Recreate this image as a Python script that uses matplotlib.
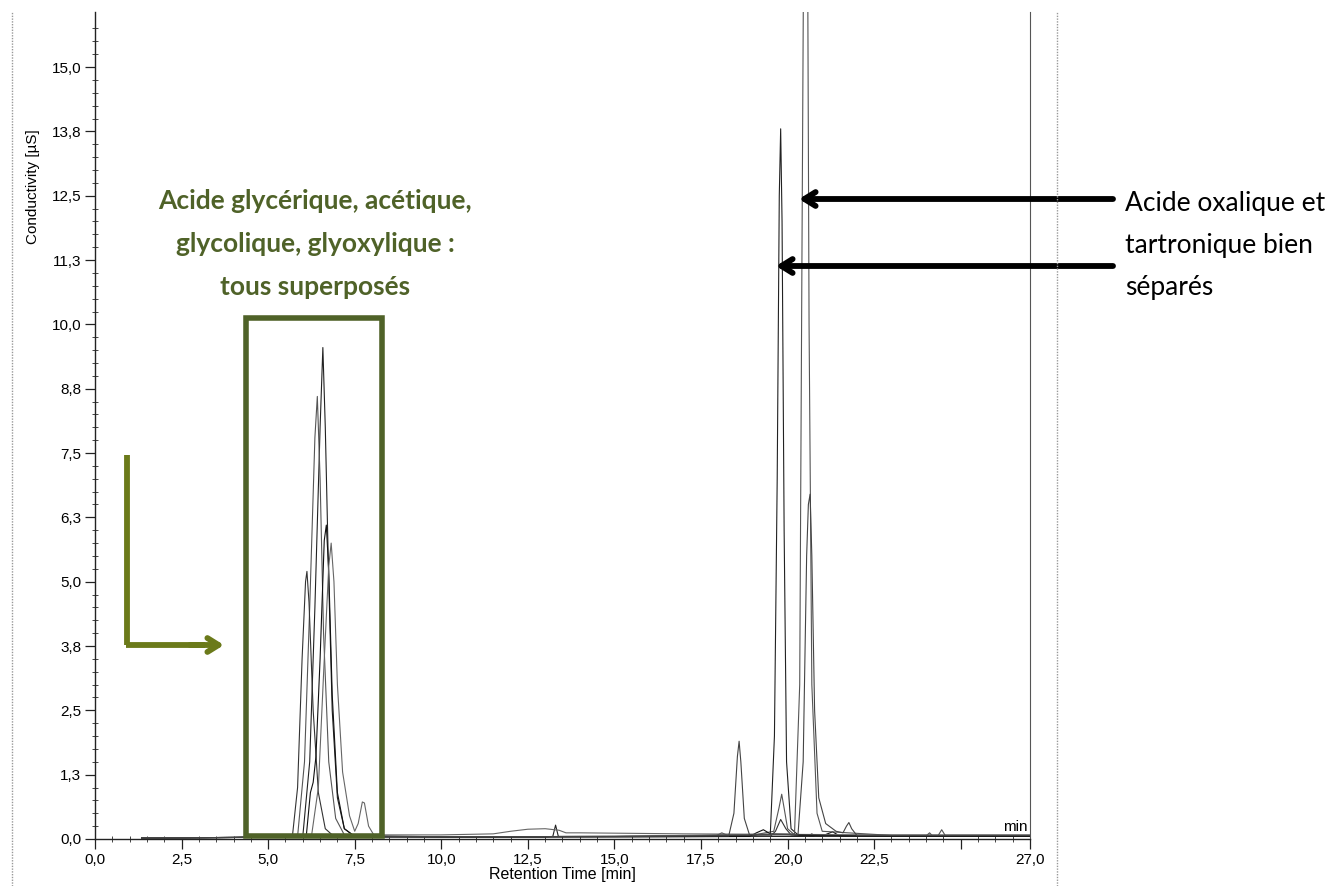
import matplotlib
matplotlib.use("Agg")
import matplotlib.pyplot as plt
from matplotlib.lines import Line2D
from matplotlib.patches import Rectangle
import numpy as np

# chromatogram traces (time in min, conductivity in uS)
trace_a_t = [1.35, 4.0, 6.0, 6.2, 6.35, 6.5, 6.58, 6.65, 6.75, 6.85, 7.0, 7.2, 7.5,
             10.0, 13.0, 13.22, 13.3, 13.38, 16.0, 19.0, 22.0, 25.0, 27.0]
trace_a_y = [0.02, 0.03, 0.05, 1.5, 4.5, 8.0, 9.55, 8.0, 5.0, 2.5, 0.8, 0.2, 0.05,
             0.04, 0.04, 0.05, 0.27, 0.05, 0.05, 0.05, 0.05, 0.05, 0.05]

trace_b_t = [1.35, 4.0, 5.85, 6.05, 6.2, 6.35, 6.42, 6.5, 6.6, 6.75, 6.95, 7.2, 10.0,
             17.9, 18.1, 18.3, 19.0, 19.2, 19.6, 19.75, 19.83, 19.9, 20.0, 20.2,
             22.0, 24.0, 24.1, 24.2, 27.0]
trace_b_y = [0.02, 0.03, 0.05, 1.5, 4.5, 7.8, 8.6, 7.0, 4.0, 1.5, 0.4, 0.08, 0.04,
             0.05, 0.12, 0.06, 0.06, 0.1, 0.15, 0.6, 0.87, 0.6, 0.2, 0.08,
             0.06, 0.06, 0.12, 0.05, 0.05]

trace_c_t = [1.35, 4.0, 5.7, 5.85, 5.98, 6.08, 6.12, 6.18, 6.3, 6.45, 6.65, 6.9, 10.0,
             15.0, 19.5, 19.65, 19.8, 19.95, 20.1, 20.6, 20.7, 20.8, 27.0]
trace_c_y = [0.02, 0.03, 0.05, 1.0, 3.5, 5.0, 5.2, 4.6, 2.5, 0.9, 0.2, 0.05, 0.04,
             0.04, 0.05, 0.15, 0.38, 0.2, 0.08, 0.06, 0.1, 0.05, 0.05]

trace_d_t = [1.35, 4.0, 6.1, 6.22, 6.3, 6.38, 6.5, 6.62, 6.68, 6.75, 6.85, 7.0, 7.2,
             7.5, 10.0, 18.9, 19.1, 19.3, 19.5, 21.0, 21.3, 21.5, 27.0]
trace_d_y = [0.02, 0.03, 0.05, 0.9, 1.1, 1.6, 3.5, 5.8, 6.1, 5.2, 2.8, 0.9, 0.2,
             0.05, 0.04, 0.05, 0.12, 0.18, 0.1, 0.06, 0.14, 0.06, 0.05]

trace_e_t = [1.35, 4.0, 6.25, 6.45, 6.6, 6.75, 6.82, 6.9, 7.0, 7.15, 7.35, 7.5, 7.6,
             7.72, 7.78, 7.9, 8.05, 10.0, 11.5, 12.0, 12.5, 13.0, 13.4, 13.6, 14.0,
             17.0, 20.0, 23.0, 27.0]
trace_e_y = [0.02, 0.03, 0.05, 1.0, 3.2, 5.3, 5.75, 5.0, 3.0, 1.3, 0.45, 0.15, 0.3,
             0.72, 0.7, 0.25, 0.08, 0.08, 0.1, 0.15, 0.19, 0.2, 0.17, 0.12, 0.12,
             0.1, 0.09, 0.08, 0.08]

trace_f_t = [1.35, 4.0, 8.0, 15.0, 19.5, 19.62, 19.7, 19.76, 19.8, 19.84, 19.9, 19.97,
             20.1, 20.3, 22.0, 27.0]
trace_f_y = [0.02, 0.03, 0.04, 0.05, 0.08, 2.0, 7.0, 12.5, 13.8, 12.0, 6.0, 1.5,
             0.2, 0.08, 0.06, 0.06]

trace_g_t = [1.35, 4.0, 8.0, 15.0, 20.2, 20.35, 20.42, 20.46, 20.52, 20.58, 20.62, 20.7,
             20.85, 21.0, 23.0, 24.35, 24.45, 24.55, 27.0]
trace_g_y = [0.02, 0.03, 0.04, 0.05, 0.1, 3.0, 12.0, 17.0, 30.0, 17.0, 10.0, 3.0,
             0.5, 0.15, 0.07, 0.07, 0.18, 0.07, 0.07]

trace_h_t = [1.35, 4.0, 8.0, 15.0, 18.3, 18.45, 18.55, 18.6, 18.65, 18.75, 18.9, 20.3,
             20.45, 20.55, 20.6, 20.65, 20.7, 20.78, 20.9, 21.1, 21.4, 21.6, 21.7,
             21.77, 21.85, 22.0, 27.0]
trace_h_y = [0.02, 0.03, 0.04, 0.05, 0.06, 0.5, 1.6, 1.9, 1.5, 0.4, 0.08, 0.08,
             1.5, 5.5, 6.5, 6.7, 5.5, 2.5, 0.8, 0.3, 0.15, 0.12, 0.25,
             0.32, 0.2, 0.07, 0.07]

traces = [(trace_a_t, trace_a_y), (trace_b_t, trace_b_y), (trace_c_t, trace_c_y),
          (trace_d_t, trace_d_y), (trace_e_t, trace_e_y), (trace_f_t, trace_f_y),
          (trace_g_t, trace_g_y), (trace_h_t, trace_h_y)]
trace_colors = ["#222222", "#555555", "#333333", "#111111",
                "#666666", "#222222", "#555555", "#444444"]

# axis ticks
x_ticks = [0.0, 2.5, 5.0, 7.5, 10.0, 12.5, 15.0, 17.5, 20.0, 22.5, 25.0, 27.0]
x_tick_labels = ["0,0", "2,5", "5,0", "7,5", "10,0", "12,5", "15,0", "17,5",
                 "20,0", "22,5", "", "27,0"]
y_ticks = [0.0, 1.25, 2.5, 3.75, 5.0, 6.25, 7.5, 8.75, 10.0, 11.25, 12.5, 13.75, 15.0]
y_tick_labels = ["0,0", "1,3", "2,5", "3,8", "5,0", "6,3", "7,5", "8,8",
                 "10,0", "11,3", "12,5", "13,8", "15,0"]

green_lines = ["Acide glycérique, acétique,", "glycolique, glyoxylique :",
               "tous superposés"]
black_lines = ["Acide oxalique et", "tartronique bien", "séparés"]

W, H = 1337, 886
def fpx(x, y):
    return (x / W, 1 - y / H)

fig = plt.figure(figsize=(W / 100, H / 100), dpi=100)
ax = fig.add_axes([95 / W, 47 / H, (1030 - 95) / W, (839 - 12) / H])

for (t, y), c in zip(traces, trace_colors):
    ax.plot(t, y, color=c, lw=0.8)

ax.set_xlim(0, 27.0)
ax.set_ylim(0, 16.07)

tick_font = {"family": "Liberation Sans", "size": 11}
ax.set_xticks(x_ticks)
ax.set_xticklabels(x_tick_labels, fontdict=tick_font)
ax.set_yticks(y_ticks)
ax.set_yticklabels(y_tick_labels, fontdict=tick_font)
ax.set_xticks(np.arange(0, 27.01, 0.5), minor=True)
ax.set_yticks(np.arange(0, 16.0, 0.25), minor=True)
ax.tick_params(which="major", direction="out", length=7, width=0.9, color="#222222", pad=3)
ax.tick_params(which="minor", direction="inout", length=4, width=0.7, color="#444444")

ax.spines["top"].set_visible(False)
ax.spines["right"].set_color("#555555")
ax.spines["right"].set_linestyle((0, (1, 1)))
for s in ["left", "bottom"]:
    ax.spines[s].set_color("#222222")
    ax.spines[s].set_linewidth(1.0)

fig.text(*fpx(562, 875), "Retention Time [min]", ha="center", va="center",
         family="Liberation Sans", fontsize=11.5)
fig.text(*fpx(33, 187), "Conductivity [µS]", ha="center", va="center",
         rotation=90, family="Liberation Sans", fontsize=11)
fig.text(*fpx(1028, 834), "min", ha="right", va="bottom",
         family="Liberation Sans", fontsize=11)

# window borders of the original screenshot
for xb in [12, 1057]:
    fig.add_artist(Line2D([xb / W, xb / W], [0, 1 - 12 / H], color="#999999",
                          lw=1, ls=(0, (1, 1))))

# green box around the overlapping peaks
olive = "#4F6228"
ax.add_patch(Rectangle((4.35, 0.06), 8.3 - 4.35, 10.12 - 0.06, fill=False,
                       edgecolor=olive, lw=4, clip_on=False, zorder=5))

# green L-shaped arrow
arrow_green = "#6B7A1A"
fig.add_artist(Line2D([127 / W, 127 / W], [1 - 455 / H, 1 - 645 / H],
                      color=arrow_green, lw=4.2, solid_capstyle="butt"))
fig.add_artist(Line2D([125.5 / W, 205 / W], [1 - 645 / H, 1 - 645 / H],
                      color=arrow_green, lw=4.2, solid_capstyle="butt"))
ax.annotate("", xy=fpx(224, 645), xytext=fpx(190, 645),
            xycoords="figure fraction", textcoords="figure fraction",
            arrowprops=dict(arrowstyle="->,head_length=0.8,head_width=0.5",
                            color=arrow_green, lw=4.2, shrinkA=0, shrinkB=0))

# black arrows pointing at the separated peaks
for y_arrow, x_head in [(199, 799), (266, 776)]:
    ax.annotate("", xy=fpx(x_head, y_arrow), xytext=fpx(1113, y_arrow),
                xycoords="figure fraction", textcoords="figure fraction",
                arrowprops=dict(arrowstyle="->,head_length=0.8,head_width=0.5",
                                color="black", lw=4.2, shrinkA=0, shrinkB=0))

for i, line in enumerate(green_lines):
    fig.text(*fpx(315, 201 + 43 * i), line, ha="center", va="center",
             family="Lato", weight="bold", fontsize=19, color=olive)

for i, line in enumerate(black_lines):
    fig.text(*fpx(1125, 203 + 42 * i), line, ha="left", va="center",
             family="Lato", fontsize=19, color="black")

fig.savefig("out.png", dpi=100)
